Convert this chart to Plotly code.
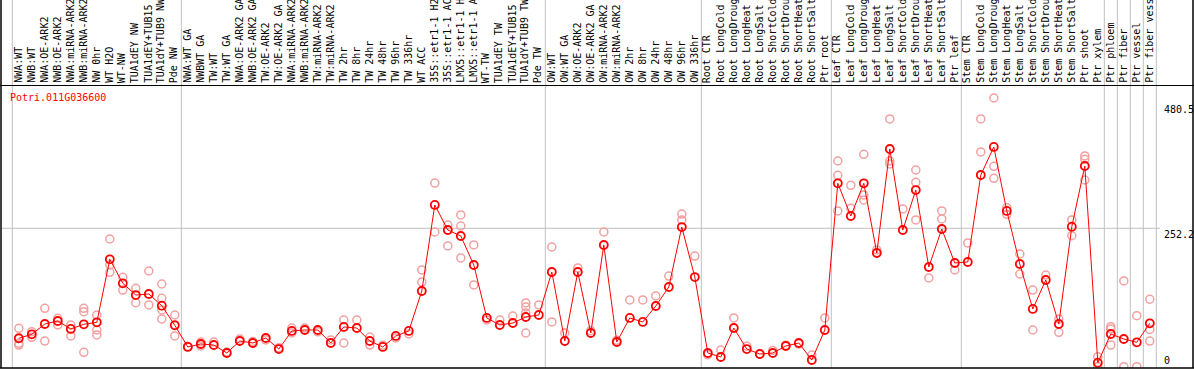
import plotly.graph_objects as go

gene = "Potri.011G036600"

samples = [
    "NWA:WT", "NWB:WT", "NWA:OE-ARK2", "NWB:OE-ARK2", "NWA:miRNA-ARK2", "NWB:miRNA-ARK2",
    "NW 0hr", "WT H2O", "WT-NW", "TUA1dEY NW", "TUA1dEY+TUB15", "TUA1dY+TUB9 NW", "Pde NW",
    "NWA:WT GA", "NWBWT GA", "TW:WT", "TW:WT GA", "NWA:OE-ARK2 GA", "NWB:OE-ARK2 GA",
    "TW:OE-ARK2", "TW:OE-ARK2 GA", "NWA:miRNA-ARK2", "NWB:miRNA-ARK2", "TW:miRNA-ARK2",
    "TW:miRNA-ARK2", "TW 2hr", "TW 8hr", "TW 24hr", "TW 48hr", "TW 96hr", "TW 336hr",
    "WT ACC", "35S::etr1-1 H2", "35S::etr1-1 AC", "LMX5::etr1-1 H", "LMX5::etr1-1 A",
    "WT-TW", "TUA1dEY TW", "TUA1dEY+TUB15", "TUA1dY+TUB9 TW", "Pde TW",
    "OW:WT", "OW:WT GA", "OW:OE-ARK2", "OW:OE-ARK2 GA", "OW:miRNA-ARK2", "OW:miRNA-ARK2",
    "OW 2hr", "OW 8hr", "OW 24hr", "OW 48hr", "OW 96hr", "OW 336hr",
    "Root CTR", "Root LongCold", "Root LongDroug", "Root LongHeat", "Root LongSalt",
    "Root ShortCold", "Root ShortDrou", "Root ShortHeat", "Root ShortSalt", "Ptr root",
    "Leaf CTR", "Leaf LongCold", "Leaf LongDroug", "Leaf LongHeat", "Leaf LongSalt",
    "Leaf ShortCold", "Leaf ShortDrou", "Leaf ShortHeat", "Leaf ShortSalt", "Ptr leaf",
    "Stem CTR", "Stem LongCold", "Stem LongDroug", "Stem LongHeat", "Stem LongSalt",
    "Stem ShortCold", "Stem ShortDrou", "Stem ShortHeat", "Stem ShortSalt", "Ptr shoot",
    "Ptr xylem", "Ptr phloem", "Ptr fiber", "Ptr vessel", "Ptr fiber vess",
]

means = [
    51.8, 59.0, 77.8, 83.3, 68.8, 77.3, 80.9, 195.7, 152.0, 130.6, 132.5, 111.2, 75.5,
    36.0, 41.4, 39.5, 25.0, 46.8, 43.2, 52.3, 32.2, 65.1, 66.9, 66.9, 43.2, 72.4, 70.5,
    46.8, 36.0, 56.0, 65.1, 137.9, 294.7, 249.1, 238.2, 185.3, 88.8, 76.0, 79.6, 90.6, 94.2,
    172.6, 46.8, 172.6, 61.4, 221.8, 45.0, 88.8, 81.5, 110.6, 145.2, 254.5, 163.4,
    25.0, 17.7, 70.5, 32.2, 23.1, 25.0, 37.7, 43.2, 12.2, 66.9,
    334.2, 274.6, 334.2, 207.2, 396.7, 249.1, 321.9, 181.7, 250.9, 189.0,
    190.8, 349.3, 400.4, 283.8, 187.1, 105.2, 158.0, 77.8, 255.1, 365.7,
    7.3, 59.6, 50.5, 44.5, 79.1,
]

replicates = [
    [70.0, 42.6, 39.5], [63.8, 53.6], [106.4, 46.8], [88.2, 76.0], [76.0, 56.0],
    [106.4, 100.2, 26.2], [94.2, 66.9, 57.8], [232.7, 185.3, 172.0], [163.0, 139.7],
    [142.9, 116.6], [174.4, 112.5], [150.7, 124.6, 103.3, 86.9], [94.2, 56.0],
    [37.4], [45.0, 37.7], [45.0], [26.7], [50.5], [46.1], [48.7], [34.5],
    [70.5, 61.4], [70.4], [63.6], [48.7], [85.1, 43.2], [85.1], [39.5, 54.1], [39.3],
    [52.3], [59.6], [154.3, 176.3], [334.7, 245.5], [258.2, 220.0], [276.5, 256.4, 198.1],
    [221.8, 148.9], [85.1], [85.1], [92.4], [116.1, 108.8, 97.9, 61.4], [112.5],
    [218.1, 81.5], [61.4], [179.9], [65.6], [245.5], [48.1], [121.6], [121.6], [128.9],
    [165.2], [278.2, 267.4], [201.5],
    [21.9], [30.4], [88.8], [37.4], [23.1], [29.6], [39.3], [41.3], [21.3], [88.8],
    [374.8, 348.7, 283.8], [330.6, 288.6], [387.0, 312.9, 303.8], [212.7],
    [451.4, 374.8, 369.4], [287.4], [358.4, 336.0, 267.4], [161.6], [283.8, 269.2], [176.3],
    [225.5], [451.4, 391.3], [489.6, 365.1, 343.3], [289.8, 277.7], [205.4, 168.9],
    [139.7, 66.9], [167.1], [86.9, 62.6], [267.4, 238.7], [384.0, 378.0, 340.2],
    [18.3, 0.0], [72.9, 68.8, 39.5], [156.2, 0.0], [92.9, 0.0], [122.9, 68.0, 46.7],
]

group_breaks = [-0.5, 12.5, 40.5, 52.5, 62.5, 72.5, 83.5, 84.5, 85.5, 86.5, 87.5]
y_tick_values = [480.5, 252.2, 0]
y_tick_labels = ["480.5", "252.2", "0"]

# ---- layout geometry (pixels) ----
W, H = 1194, 370
L, R, T, B = 1, 1, 0, 2
col0_px, col_step = 18.8, 13.0
zero_px, px_per_unit = 366.7, 0.5488
plot_h = H - T - B
x_range = [(L - col0_px) / col_step, (W - R - col0_px) / col_step]
y_range = [-(T + plot_h - zero_px) / px_per_unit, (zero_px - T) / px_per_unit]


def ydata(px):
    return (zero_px - px) / px_per_unit


def xpaper(px):
    return (px - L) / (W - L - R)


def ypaper(px):
    return (H - B - px) / plot_h


FONT = "DejaVu Sans Mono"

rep_x, rep_y = [], []
for i, reps in enumerate(replicates):
    for v in reps:
        rep_x.append(i)
        rep_y.append(v)

fig = go.Figure()
fig.add_trace(go.Scatter(
    x=rep_x, y=rep_y, mode="markers",
    marker=dict(symbol="circle-open", size=8, color="#f2a0a0", line=dict(width=1.5)),
    hoverinfo="skip", showlegend=False,
))
fig.add_trace(go.Scatter(
    x=list(range(len(means))), y=means, mode="lines+markers",
    line=dict(color="#ff0000", width=1),
    marker=dict(symbol="circle-open", size=8, color="#ff0000", line=dict(width=1.8)),
    showlegend=False,
))

shapes = []
for b in group_breaks:
    shapes.append(dict(type="line", xref="x", yref="paper", x0=b, x1=b, y0=0, y1=1.02,
                       line=dict(color="#c0c0c0", width=1), layer="below"))
shapes.append(dict(type="line", xref="paper", yref="y", x0=0, x1=xpaper(1160),
                   y0=y_tick_values[1], y1=y_tick_values[1],
                   line=dict(color="#c0c0c0", width=1), layer="below"))
shapes.append(dict(type="line", xref="paper", yref="paper", x0=-0.001, x1=1.001,
                   y0=ypaper(85.5), y1=ypaper(85.5), line=dict(color="black", width=1)))
shapes.append(dict(type="line", xref="paper", yref="paper", x0=-0.001, x1=1.001,
                   y0=0, y1=0, line=dict(color="black", width=1.5)))
shapes.append(dict(type="line", xref="paper", yref="paper", x0=0, x1=0,
                   y0=0, y1=1.02, line=dict(color="black", width=1.5)))
shapes.append(dict(type="line", xref="paper", yref="paper", x0=1, x1=1,
                   y0=0, y1=1.02, line=dict(color="black", width=1.5)))

annotations = []
for i, s in enumerate(samples):
    annotations.append(dict(
        x=i, y=ydata(84), xref="x", yref="y", text=s, showarrow=False,
        textangle=-90, xanchor="center", yanchor="bottom", xshift=-1,
        font=dict(family=FONT, size=10, color="black"), borderpad=0,
    ))
annotations.append(dict(
    x=xpaper(9), y=ydata(97), xref="paper", yref="y", text=gene, showarrow=False,
    xanchor="left", yanchor="middle", font=dict(family=FONT, size=10, color="#ff0000"),
    borderpad=0,
))
for v, t in zip(y_tick_values, y_tick_labels):
    annotations.append(dict(
        x=xpaper(1163), y=v, xref="paper", yref="y", text=t, showarrow=False,
        xanchor="left", yanchor="bottom" if v == 0 else "top",
        font=dict(family=FONT, size=10, color="black"), borderpad=0,
    ))

fig.update_layout(
    width=W, height=H,
    margin=dict(l=L, r=R, t=T, b=B, pad=0),
    paper_bgcolor="white", plot_bgcolor="white",
    hovermode=False,
    xaxis=dict(range=x_range, showgrid=False, zeroline=False, showticklabels=False,
               ticks="", fixedrange=True),
    yaxis=dict(range=y_range, showgrid=False, zeroline=False, showticklabels=False,
               ticks="", fixedrange=True),
    shapes=shapes, annotations=annotations,
)

fig.write_html(
    "out.html",
    config={"displayModeBar": False, "staticPlot": True},
    post_script="document.body.style.margin='0';document.body.style.overflow='hidden';",
)
